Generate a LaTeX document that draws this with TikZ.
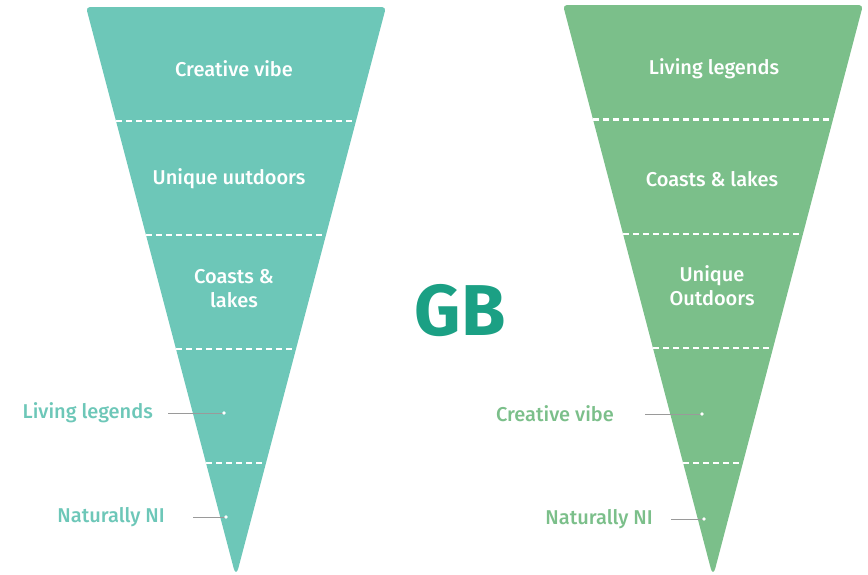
\documentclass[tikz,border=0pt]{standalone}
\usepackage{fontspec}
\setmainfont{Fira Sans Medium}[BoldFont=Fira Sans Bold]
\usetikzlibrary{calc}
\definecolor{funnelA}{HTML}{6DC7B8}
\definecolor{funnelB}{HTML}{7BBF8A}
\definecolor{gbgreen}{HTML}{1BA084}
\definecolor{leadgray}{HTML}{9A9A9A}
\begin{document}
\begin{tikzpicture}[x=1pt,y=-1pt,
  intext/.style={text=white, font=\fontsize{20}{24}\selectfont, align=center, inner sep=0pt},
  sidelabel/.style={font=\fontsize{20}{24}\selectfont, anchor=east, inner sep=0pt},
  sep/.style={draw=white, line width=2.2pt, dash pattern=on 6pt off 4pt},
  leader/.style={draw=leadgray, line width=0.8pt}]
\useasboundingbox (0,0) rectangle (868,574);
% left funnel
\coordinate (aTL) at (86,7);
\coordinate (aTR) at (386,7);
\coordinate (aTip) at (236,577);
\fill[funnelA, rounded corners=4pt] (aTL) -- (aTR) [rounded corners=9pt] -- (aTip) [rounded corners=4pt] -- cycle;
\foreach \t in {0.2,0.4,0.6,0.8}
  \draw[sep] ($(aTL)!\t!(aTip)$) -- ($(aTR)!\t!(aTip)$);
% right funnel
\coordinate (bTL) at (563,5);
\coordinate (bTR) at (863,5);
\coordinate (bTip) at (713,577);
\fill[funnelB, rounded corners=4pt] (bTL) -- (bTR) [rounded corners=9pt] -- (bTip) [rounded corners=4pt] -- cycle;
\foreach \t in {0.2,0.4,0.6,0.8}
  \draw[sep] ($(bTL)!\t!(bTip)$) -- ($(bTR)!\t!(bTip)$);
% texts in funnels
\node[intext] (a1) at (234,69) {Creative vibe};
\node[intext] (a2) at (229,179) {Unique uutdoors};
\node[intext] (a3) at (234,289) {Coasts \&\\lakes};
\node[intext] (b1) at (714,69) {Living legends};
\node[intext] (b2) at (712,179) {Coasts \& lakes};
\node[intext] (b3) at (712,286) {Unique\\Outdoors};
% GB
\node[font=\fontsize{72}{72}\selectfont\bfseries, text=gbgreen, inner sep=0pt] (gb) at (460,311) {GB};
% side labels
\node[sidelabel, text=funnelA] (la) at (153,413) {Living legends};
\node[sidelabel, text=funnelA] (lb) at (165,517) {Naturally NI};
\node[sidelabel, text=funnelB] (lc) at (614,414) {Creative vibe};
\node[sidelabel, text=funnelB] (ld) at (653,519) {Naturally NI};
\coordinate (da) at (224,413);
\coordinate (db) at (226,517);
\coordinate (dc) at (702,414);
\coordinate (dd) at (704,519);
\draw[leader, shorten <=15pt] (la.east) -- (da);
\draw[leader, shorten <=28pt] (lb.east) -- (db);
\draw[leader, shorten <=31pt] (lc.east) -- (dc);
\draw[leader, shorten <=18pt] (ld.east) -- (dd);
\foreach \d in {da,db,dc,dd}
  \fill[white] (\d) circle (1.8pt);
\end{tikzpicture}
\end{document}
